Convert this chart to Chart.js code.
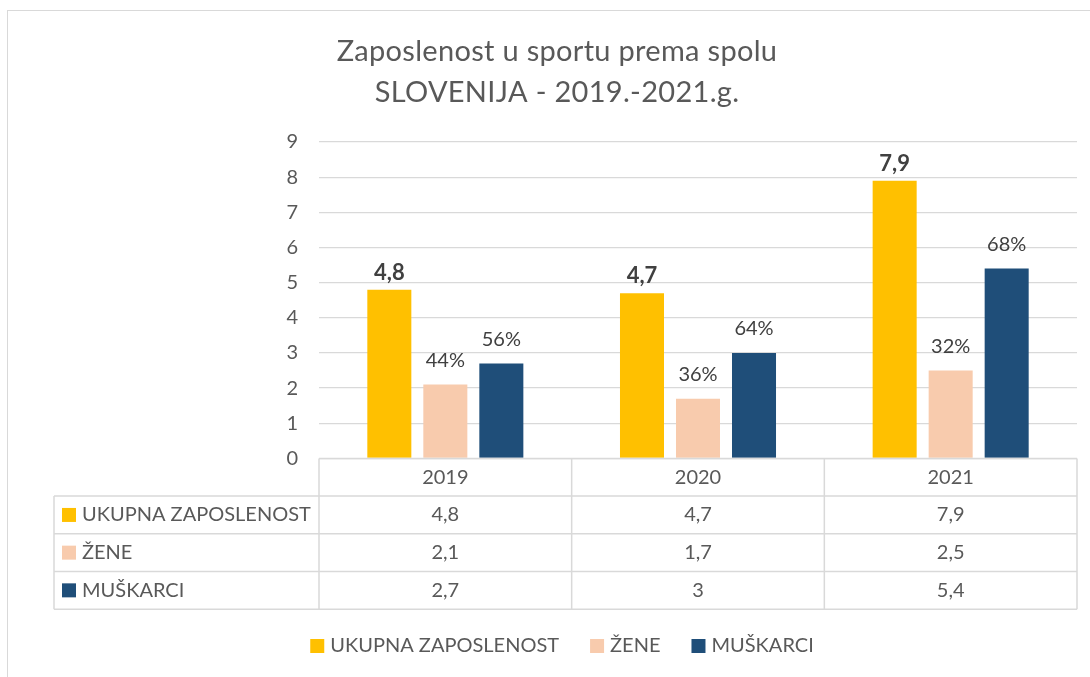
<!DOCTYPE html>
<html lang="hr">

<head>
    <meta charset="UTF-8" />
    <title>Zaposlenost u sportu prema spolu</title>
    <script src="https://cdn.jsdelivr.net/npm/chart.js"></script>
    <style>
        html, body { margin: 0; padding: 0; background: #fff; }
    </style>
</head>

<body>
    <canvas id="grafica" width="1090" height="677"></canvas>

    <script>
        // podaci
        const godine = ["2019", "2020", "2021"];
        const serije = ["UKUPNA ZAPOSLENOST", "ŽENE", "MUŠKARCI"];
        const ukupno = [4.8, 4.7, 7.9];
        const zene = [2.1, 1.7, 2.5];
        const muskarci = [2.7, 3, 5.4];
        const zenePosto = ["44%", "36%", "32%"];
        const muskarciPosto = ["56%", "64%", "68%"];
        const naslov = ["Zaposlenost u sportu prema spolu", "SLOVENIJA - 2019.-2021.g."];
        const yMax = 9;

        const boje = ["#FFC000", "#F8CBAD", "#1F4E79"];
        const siva = "#595959";
        const linije = "#D9D9D9";
        const font = "Lato, 'Open Sans', sans-serif";

        const zarez = v => String(v).replace(".", ",");

        const crtez = {
            id: "crtez",
            afterDraw(chart) {
                const ctx = chart.ctx;
                const x = chart.scales.x;
                const area = chart.chartArea;
                ctx.save();

                // okvir
                ctx.strokeStyle = linije;
                ctx.lineWidth = 1;
                ctx.strokeRect(7.5, 10.5, 1200, 800);

                // naslov
                ctx.fillStyle = siva;
                ctx.textAlign = "center";
                ctx.textBaseline = "middle";
                ctx.font = "400 29px " + font;
                ctx.letterSpacing = "0.3px";
                ctx.fillText(naslov[0], 557, 52);
                ctx.fillText(naslov[1], 557, 93);
                ctx.letterSpacing = "0px";

                // oznake iznad stupaca
                const skupovi = [ukupno.map(zarez), zenePosto, muskarciPosto];
                skupovi.forEach((tekst, d) => {
                    const meta = chart.getDatasetMeta(d);
                    meta.data.forEach((bar, i) => {
                        ctx.fillStyle = "#404040";
                        if (d === 0) {
                            ctx.font = "bold 22px " + font;
                            ctx.fillText(tekst[i], bar.x, bar.y - 17);
                        } else {
                            ctx.font = "20px " + font;
                            ctx.fillText(tekst[i], bar.x, bar.y - 24);
                        }
                    });
                });

                // tablica podataka
                const pola = (x.getPixelForValue(1) - x.getPixelForValue(0)) / 2;
                const lijevo = 54;
                const vrh = area.bottom;
                const red = 37.7;
                const desno = x.getPixelForValue(godine.length - 1) + pola;
                const dno = vrh + red * 4;

                ctx.strokeStyle = linije;
                ctx.lineWidth = 1.5;
                ctx.beginPath();
                ctx.moveTo(area.left, vrh); ctx.lineTo(desno, vrh);
                for (let r = 1; r <= 4; r++) {
                    ctx.moveTo(lijevo, vrh + r * red); ctx.lineTo(desno, vrh + r * red);
                }
                ctx.moveTo(lijevo, vrh + red); ctx.lineTo(lijevo, dno);
                godine.forEach((g, i) => {
                    const l = x.getPixelForValue(i) - pola;
                    ctx.moveTo(l, vrh); ctx.lineTo(l, dno);
                });
                ctx.moveTo(desno, vrh); ctx.lineTo(desno, dno);
                ctx.stroke();

                ctx.font = "20px " + font;
                ctx.fillStyle = siva;
                ctx.textAlign = "center";
                godine.forEach((g, i) => ctx.fillText(g, x.getPixelForValue(i), vrh + red / 2));

                const vrijednosti = [ukupno, zene, muskarci];
                vrijednosti.forEach((niz, s) => {
                    const y = vrh + red * (s + 1.5);
                    ctx.fillStyle = boje[s];
                    ctx.fillRect(62, y - 7, 14, 14);
                    ctx.fillStyle = siva;
                    ctx.textAlign = "left";
                    ctx.fillText(serije[s], 82, y);
                    ctx.textAlign = "center";
                    niz.forEach((v, i) => ctx.fillText(zarez(v), x.getPixelForValue(i), y));
                });

                // legenda
                const sirine = serije.map(s => 14 + 6 + ctx.measureText(s).width);
                const razmak = 31;
                const ukupnaSirina = sirine.reduce((a, b) => a + b, 0) + razmak * (serije.length - 1);
                let lx = 562 - ukupnaSirina / 2;
                const ly = 646;
                serije.forEach((s, i) => {
                    ctx.fillStyle = boje[i];
                    ctx.fillRect(lx, ly - 7, 14, 14);
                    ctx.fillStyle = siva;
                    ctx.textAlign = "left";
                    ctx.fillText(s, lx + 20, ly);
                    lx += sirine[i] + razmak;
                });

                ctx.restore();
            }
        };

        new Chart(document.getElementById("grafica"), {
            type: "bar",
            data: {
                labels: godine,
                datasets: [
                    { label: serije[0], data: ukupno, backgroundColor: boje[0] },
                    { label: serije[1], data: zene, backgroundColor: boje[1] },
                    { label: serije[2], data: muskarci, backgroundColor: boje[2] }
                ]
            },
            options: {
                responsive: false,
                animation: false,
                categoryPercentage: 0.665,
                barPercentage: 0.786,
                layout: { padding: { left: 0, right: 13, top: 142, bottom: 218.6 } },
                plugins: {
                    legend: { display: false },
                    tooltip: { enabled: false }
                },
                scales: {
                    x: { display: false },
                    y: {
                        min: 0,
                        max: yMax,
                        ticks: { stepSize: 1, color: siva, padding: 21, font: { family: font, size: 20 } },
                        grid: { color: linije, lineWidth: 1.3, drawTicks: false },
                        border: { display: false },
                        afterFit(scale) { scale.width = 319; }
                    }
                }
            },
            plugins: [crtez]
        });
    </script>
</body>

</html>
